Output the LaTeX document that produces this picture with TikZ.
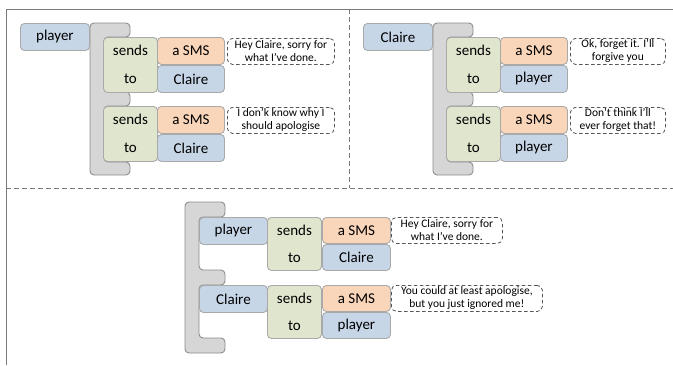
\documentclass[tikz,border=0pt]{standalone}
\usepackage{fontspec}
\setmainfont{Carlito}
\usetikzlibrary{calc}

\definecolor{objblue}{HTML}{C6D6E7}
\definecolor{msgorange}{HTML}{F9D5B9}
\definecolor{actgreen}{HTML}{E0E5CE}
\definecolor{blkedge}{HTML}{A9A9A9}
\definecolor{brfill}{HTML}{D6D6D6}
\definecolor{bredge}{HTML}{8C8C8C}
\definecolor{framegray}{HTML}{7A7A7A}
\definecolor{notegray}{HTML}{555555}

\tikzset{
  blk/.style={draw=blkedge, line width=0.9pt, rounded corners=4pt, anchor=north west,
    inner sep=0pt, minimum height=27pt, font=\fontsize{15}{18}\selectfont},
  obj/.style={blk, fill=objblue, minimum width=68pt},
  msg/.style={blk, fill=msgorange, minimum width=67pt},
  act/.style={blk, fill=actgreen, minimum width=54pt, minimum height=55pt},
  actlbl/.style={inner sep=0pt, font=\fontsize{15}{18}\selectfont, text height=10pt, text depth=0pt},
  note/.style={draw=notegray, line width=0.8pt, dash pattern=on 3.5pt off 2.5pt,
    rounded corners=5pt, anchor=north west, inner sep=0pt, minimum height=26pt,
    align=center, font=\fontsize{11.5}{13}\selectfont},
  bracket/.style={fill=brfill, draw=bredge, line width=0.9pt, rounded corners=4pt},
  framesolid/.style={draw=framegray, line width=1pt},
  framedash/.style={draw=framegray, line width=0.8pt, dash pattern=on 5pt off 3pt}
}

\begin{document}
\begin{tikzpicture}[x=1pt, y=-1pt]
\useasboundingbox (0,0) rectangle (673,365);

% frame and panel dividers
\coordinate (ftl) at (6,9);
\coordinate (ftr) at (673,9);
\coordinate (fbl) at (6,365);
\coordinate (dvt) at (349,9);
\coordinate (dvb) at (349,188);
\coordinate (dhl) at (6,188);
\coordinate (dhr) at (673,188);
\draw[framesolid] (fbl) -- (ftl) -- (ftr);
\draw[framedash] (dvt) -- (dvb);
\draw[framedash] (dhl) -- (dhr);

% ---------- left panel: player ----------
\filldraw[bracket] (90,23) -- (130,23) -- (130,37) -- (104,37) -- (104,92) -- (130,92)
  -- (130,106) -- (104,106) -- (104,162) -- (130,162) -- (130,175) -- (90,175) -- cycle;
\node[obj, minimum width=69pt] (lp) at (20,23) {player};

\node[act] (lg1) at (103,37) {};
\node[actlbl] (ls1) at ($(lg1.north)+(0,13.5)$) {sends};
\node[actlbl] (lt1) at ($(lg1.north)+(0,41)$) {to};
\node[msg] (lm1) at (157,37) {a SMS};
\node[obj, minimum width=67pt] (lr1) at (157,65) {Claire};
\node[note, minimum width=107pt] (ln1) at (227,38) {Hey Claire, sorry for\\what I’ve done.};

\node[act] (lg2) at (103,106) {};
\node[actlbl] (ls2) at ($(lg2.north)+(0,13.5)$) {sends};
\node[actlbl] (lt2) at ($(lg2.north)+(0,41)$) {to};
\node[msg] (lm2) at (157,106) {a SMS};
\node[obj, minimum width=67pt] (lr2) at (157,134) {Claire};
\node[note, minimum width=107pt] (ln2) at (227,107) {I don’k know why I\\should apologise};

% ---------- right panel: Claire ----------
\begin{scope}[shift={(343,0)}]
\filldraw[bracket] (90,23) -- (130,23) -- (130,37) -- (104,37) -- (104,92) -- (130,92)
  -- (130,106) -- (104,106) -- (104,162) -- (130,162) -- (130,175) -- (90,175) -- cycle;
\node[obj, minimum width=69pt] (rc) at (20,23) {Claire};

\node[act] (rg1) at (103,37) {};
\node[actlbl] (rs1) at ($(rg1.north)+(0,13.5)$) {sends};
\node[actlbl] (rt1) at ($(rg1.north)+(0,41)$) {to};
\node[msg] (rm1) at (157,37) {a SMS};
\node[obj, minimum width=67pt] (rr1) at (157,65) {player};
\node[note, minimum width=95pt] (rn1) at (227,38) {Ok, forget it. I’ll\\forgive you};

\node[act] (rg2) at (103,106) {};
\node[actlbl] (rs2) at ($(rg2.north)+(0,13.5)$) {sends};
\node[actlbl] (rt2) at ($(rg2.north)+(0,41)$) {to};
\node[msg] (rm2) at (157,106) {a SMS};
\node[obj, minimum width=67pt] (rr2) at (157,134) {player};
\node[note, minimum width=95pt] (rn2) at (227,107) {Don’t think I’ll\\ever forget that!};
\end{scope}

% ---------- bottom panel: conversation ----------
\filldraw[bracket] (185,202) -- (225,202) -- (225,217) -- (199,217) -- (199,270) -- (225,270)
  -- (225,285) -- (199,285) -- (199,338) -- (225,338) -- (225,353) -- (185,353) -- cycle;

\node[obj] (bp) at (199,217) {player};
\node[act, minimum height=53pt] (bg1) at (267,217) {};
\node[actlbl] (bs1) at ($(bg1.north)+(0,13)$) {sends};
\node[actlbl] (bt1) at ($(bg1.north)+(0,40)$) {to};
\node[msg, minimum width=68pt, minimum height=26pt] (bm1) at (322,217) {a SMS};
\node[obj, minimum height=26pt] (br1) at (322,244) {Claire};
\node[note, minimum width=111pt] (bn1) at (391,217) {Hey Claire, sorry for\\what I’ve done.};

\node[obj] (bc) at (199,285) {Claire};
\node[act, minimum height=53pt] (bg2) at (267,285) {};
\node[actlbl] (bs2) at ($(bg2.north)+(0,13)$) {sends};
\node[actlbl] (bt2) at ($(bg2.north)+(0,40)$) {to};
\node[msg, minimum width=68pt, minimum height=26pt] (bm2) at (322,285) {a SMS};
\node[obj, minimum height=26pt] (br2) at (322,312) {player};
\node[note, minimum width=151pt] (bn2) at (391,285) {You could at least apologise,\\but you just ignored me!};

\end{tikzpicture}
\end{document}
